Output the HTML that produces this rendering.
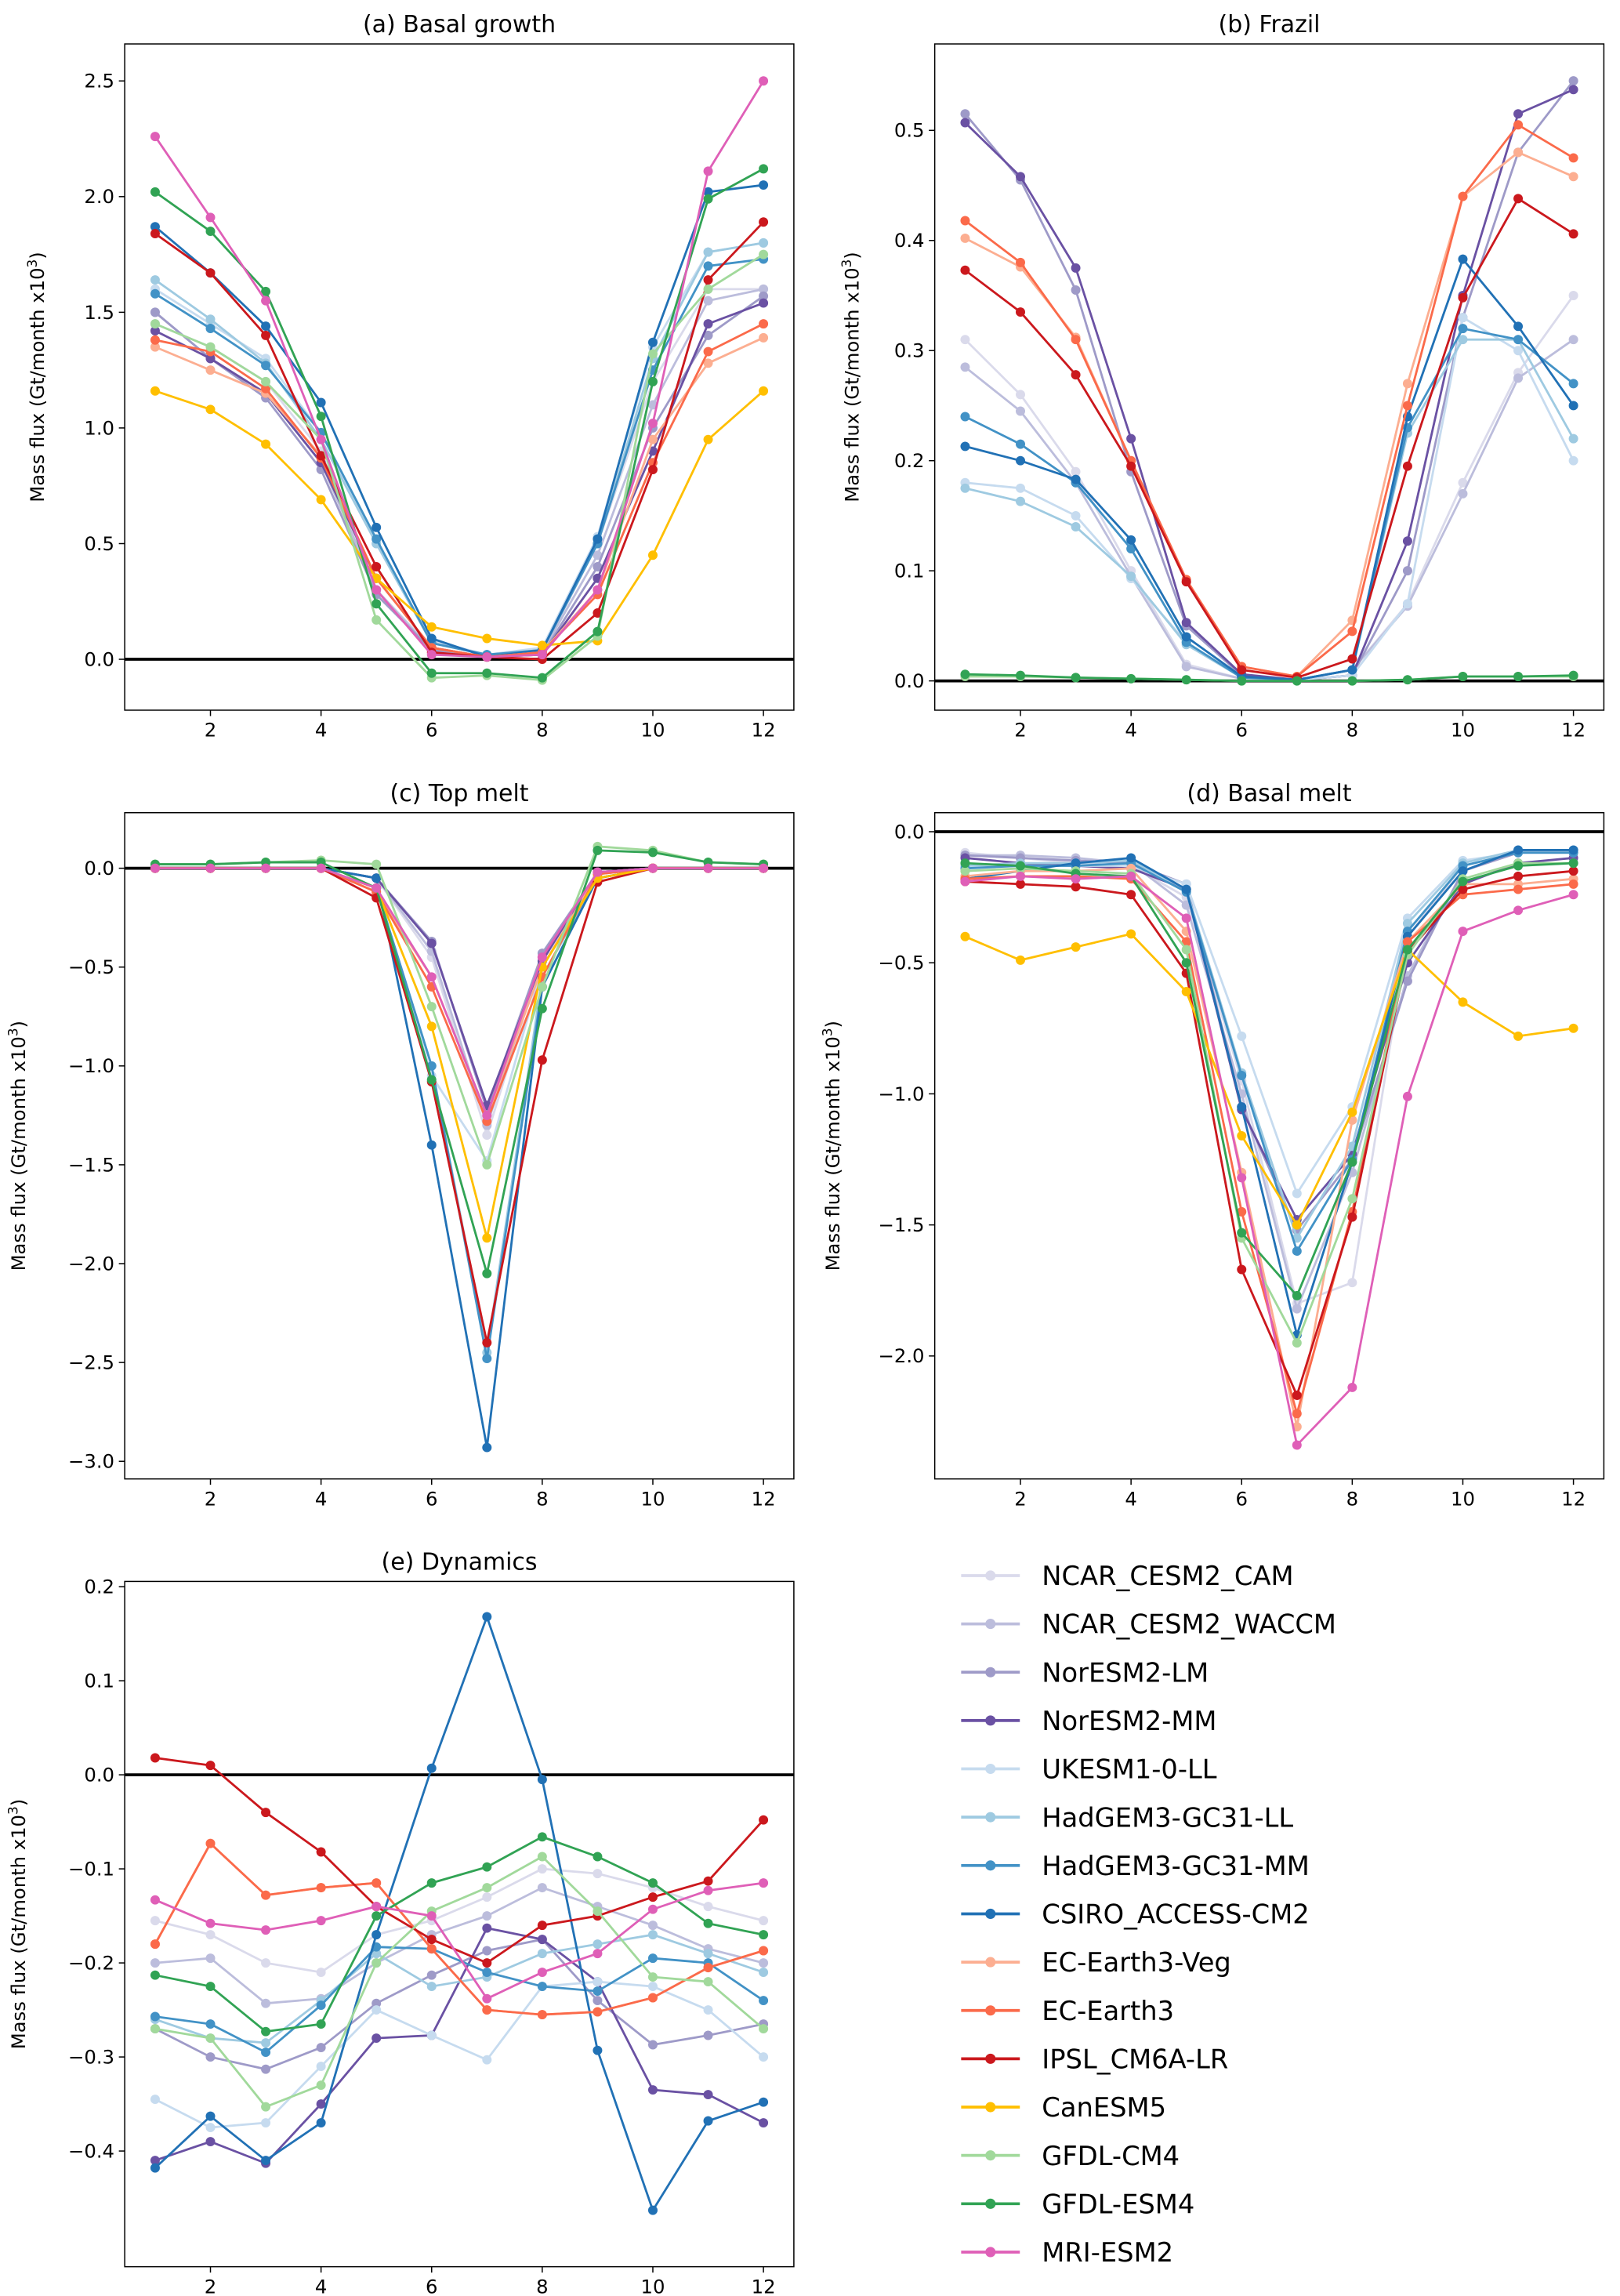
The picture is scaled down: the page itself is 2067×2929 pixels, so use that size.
<!DOCTYPE html>
<html><head><meta charset="utf-8"><style>
html,body{margin:0;padding:0;background:#fff;}
svg{display:block;font-family:"DejaVu Sans","Liberation Sans",sans-serif;}
</style></head><body>
<svg id="fig" width="2067" height="2929" viewBox="0 0 1104 1568" preserveAspectRatio="none" xmlns="http://www.w3.org/2000/svg"></svg>
<script>
const months=[1,2,3,4,5,6,7,8,9,10,11,12];
const models=["NCAR_CESM2_CAM","NCAR_CESM2_WACCM","NorESM2-LM","NorESM2-MM","UKESM1-0-LL","HadGEM3-GC31-LL","HadGEM3-GC31-MM","CSIRO_ACCESS-CM2","EC-Earth3-Veg","EC-Earth3","IPSL_CM6A-LR","CanESM5","GFDL-CM4","GFDL-ESM4","MRI-ESM2"];
const colors=["#dadaeb","#bcbddc","#9e9ac8","#6a51a3","#c6dbef","#9ecae1","#4292c6","#2171b5","#fcae91","#fb6a4a","#cb181d","#ffbf00","#a1d99b","#31a354","#df5fb7"];
const basalGrowth=[
[1.45,1.35,1.2,0.9,0.3,0.05,0.01,0.03,0.5,1.2,1.6,1.6],
[1.5,1.3,1.15,0.85,0.3,0.04,0.01,0.03,0.45,1.1,1.55,1.6],
[1.5,1.3,1.13,0.82,0.28,0.04,0.01,0.02,0.4,1.0,1.4,1.57],
[1.42,1.3,1.15,0.85,0.35,0.05,0.01,0.02,0.35,0.9,1.45,1.54],
[1.6,1.45,1.3,0.98,0.5,0.08,0.02,0.05,0.53,1.35,1.76,1.8],
[1.64,1.47,1.28,0.95,0.5,0.07,0.02,0.04,0.5,1.3,1.76,1.8],
[1.58,1.43,1.27,0.98,0.52,0.07,0.02,0.04,0.5,1.25,1.7,1.73],
[1.87,1.67,1.44,1.11,0.57,0.09,0.01,0.04,0.52,1.37,2.02,2.05],
[1.35,1.25,1.15,0.88,0.35,0.05,0.01,0.03,0.3,0.95,1.28,1.39],
[1.38,1.33,1.17,0.87,0.35,0.05,0.01,0.03,0.28,0.85,1.33,1.45],
[1.84,1.67,1.4,0.88,0.4,0.03,0.01,0.0,0.2,0.82,1.64,1.89],
[1.16,1.08,0.93,0.69,0.35,0.14,0.09,0.06,0.08,0.45,0.95,1.16],
[1.45,1.35,1.2,0.95,0.17,-0.08,-0.07,-0.09,0.1,1.32,1.6,1.75],
[2.02,1.85,1.59,1.05,0.24,-0.06,-0.06,-0.08,0.12,1.2,1.99,2.12],
[2.26,1.91,1.55,0.95,0.3,0.02,0.01,0.02,0.3,1.02,2.11,2.5]];
const frazil=[
[0.31,0.26,0.19,0.1,0.015,0.002,0.001,0.01,0.07,0.18,0.28,0.35],
[0.285,0.245,0.18,0.095,0.013,0.002,0.001,0.01,0.068,0.17,0.275,0.31],
[0.515,0.455,0.355,0.19,0.05,0.005,0.001,0.005,0.1,0.33,0.48,0.545],
[0.507,0.458,0.375,0.22,0.053,0.006,0.001,0.005,0.127,0.35,0.515,0.537],
[0.18,0.175,0.15,0.093,0.035,0.003,0.001,0.005,0.07,0.33,0.30,0.2],
[0.175,0.163,0.14,0.095,0.033,0.003,0.001,0.01,0.225,0.31,0.31,0.22],
[0.24,0.215,0.18,0.12,0.035,0.003,0.001,0.01,0.23,0.32,0.31,0.27],
[0.213,0.2,0.183,0.128,0.04,0.004,0.001,0.01,0.24,0.383,0.322,0.25],
[0.402,0.376,0.312,0.2,0.09,0.013,0.004,0.055,0.27,0.44,0.48,0.458],
[0.418,0.38,0.31,0.2,0.092,0.013,0.004,0.045,0.25,0.44,0.505,0.475],
[0.373,0.335,0.278,0.195,0.09,0.01,0.003,0.02,0.195,0.348,0.438,0.406],
[null,null,null,null,null,null,null,null,null,null,null,null],
[0.004,0.004,0.003,0.002,0.001,0,0,0,0.001,0.004,0.004,0.004],
[0.006,0.005,0.003,0.002,0.001,0,0,0,0.001,0.004,0.004,0.005],
[null,null,null,null,null,null,null,null,null,null,null,null]];
const topMelt=[
[0,0,0,0,-0.05,-0.45,-1.35,-0.45,-0.02,0,0,0],
[0,0,0,0,-0.05,-0.42,-1.3,-0.45,-0.02,0,0,0],
[0,0,0,0,-0.05,-0.37,-1.22,-0.43,-0.02,0,0,0],
[0,0,0,0,-0.05,-0.38,-1.2,-0.47,-0.02,0,0,0],
[0,0,0,0,-0.1,-1.05,-1.48,-0.5,-0.03,0,0,0],
[0,0,0,0,-0.1,-1.0,-2.45,-0.55,-0.05,0,0,0],
[0,0,0,0,-0.1,-1.0,-2.48,-0.6,-0.05,0,0,0],
[0,0,0,0,-0.05,-1.4,-2.93,-0.6,-0.05,0,0,0],
[0,0,0,0,-0.12,-0.55,-1.25,-0.5,-0.03,0,0,0],
[0,0,0,0,-0.12,-0.6,-1.28,-0.55,-0.03,0,0,0],
[0,0,0,0,-0.15,-1.08,-2.4,-0.97,-0.07,0,0,0],
[0,0,0,0,-0.1,-0.8,-1.87,-0.5,-0.05,0,0,0],
[0.02,0.02,0.03,0.04,0.02,-0.7,-1.5,-0.6,0.11,0.09,0.03,0.02],
[0.02,0.02,0.03,0.03,-0.1,-1.07,-2.05,-0.71,0.09,0.08,0.03,0.02],
[0,0,0,0,-0.1,-0.55,-1.25,-0.45,-0.02,0,0,0]];
const basalMelt=[
[-0.08,-0.1,-0.12,-0.13,-0.25,-0.95,-1.8,-1.72,-0.4,-0.13,-0.08,-0.08],
[-0.09,-0.09,-0.1,-0.12,-0.28,-1.0,-1.82,-1.3,-0.55,-0.15,-0.07,-0.07],
[-0.09,-0.1,-0.11,-0.12,-0.2,-1.05,-1.52,-1.25,-0.57,-0.15,-0.08,-0.08],
[-0.1,-0.12,-0.13,-0.14,-0.22,-1.06,-1.48,-1.23,-0.5,-0.2,-0.12,-0.1],
[-0.13,-0.13,-0.13,-0.13,-0.2,-0.78,-1.38,-1.05,-0.33,-0.11,-0.08,-0.08],
[-0.13,-0.12,-0.12,-0.11,-0.22,-0.92,-1.55,-1.2,-0.35,-0.12,-0.07,-0.07],
[-0.14,-0.13,-0.13,-0.12,-0.23,-0.93,-1.6,-1.25,-0.38,-0.13,-0.08,-0.08],
[-0.18,-0.15,-0.12,-0.1,-0.22,-1.05,-1.92,-1.26,-0.4,-0.15,-0.07,-0.07],
[-0.17,-0.15,-0.15,-0.14,-0.38,-1.3,-2.27,-1.1,-0.42,-0.2,-0.2,-0.18],
[-0.18,-0.17,-0.17,-0.18,-0.42,-1.45,-2.22,-1.45,-0.42,-0.24,-0.22,-0.2],
[-0.19,-0.2,-0.21,-0.24,-0.54,-1.67,-2.15,-1.47,-0.46,-0.22,-0.17,-0.15],
[-0.4,-0.49,-0.44,-0.39,-0.61,-1.16,-1.5,-1.07,-0.45,-0.65,-0.78,-0.75],
[-0.15,-0.14,-0.15,-0.16,-0.45,-1.55,-1.95,-1.4,-0.47,-0.18,-0.12,-0.12],
[-0.12,-0.13,-0.16,-0.17,-0.5,-1.53,-1.77,-1.26,-0.45,-0.19,-0.13,-0.12],
[-0.19,-0.17,-0.18,-0.17,-0.33,-1.32,-2.34,-2.12,-1.01,-0.38,-0.3,-0.24]];
const dynamics=[
[-0.155,-0.17,-0.2,-0.21,-0.17,-0.155,-0.13,-0.1,-0.105,-0.12,-0.14,-0.155],
[-0.2,-0.195,-0.243,-0.238,-0.2,-0.17,-0.15,-0.12,-0.14,-0.16,-0.185,-0.2],
[-0.27,-0.3,-0.313,-0.29,-0.243,-0.213,-0.187,-0.175,-0.24,-0.287,-0.277,-0.265],
[-0.41,-0.39,-0.413,-0.35,-0.28,-0.277,-0.163,-0.175,-0.22,-0.335,-0.34,-0.37],
[-0.345,-0.375,-0.37,-0.31,-0.25,-0.277,-0.303,-0.225,-0.22,-0.225,-0.25,-0.3],
[-0.26,-0.28,-0.285,-0.24,-0.19,-0.225,-0.215,-0.19,-0.18,-0.17,-0.19,-0.21],
[-0.257,-0.265,-0.295,-0.245,-0.183,-0.185,-0.21,-0.225,-0.23,-0.195,-0.2,-0.24],
[-0.418,-0.363,-0.41,-0.37,-0.17,0.007,0.168,-0.005,-0.293,-0.463,-0.368,-0.348],
[-0.18,-0.073,-0.128,-0.12,-0.115,-0.185,-0.25,-0.255,-0.252,-0.237,-0.205,-0.187],
[-0.18,-0.073,-0.128,-0.12,-0.115,-0.185,-0.25,-0.255,-0.252,-0.237,-0.205,-0.187],
[0.018,0.01,-0.04,-0.082,-0.14,-0.175,-0.2,-0.16,-0.15,-0.13,-0.113,-0.048],
[null,null,null,null,null,null,null,null,null,null,null,null],
[-0.27,-0.28,-0.353,-0.33,-0.2,-0.145,-0.12,-0.087,-0.145,-0.215,-0.22,-0.27],
[-0.213,-0.225,-0.273,-0.265,-0.15,-0.115,-0.098,-0.066,-0.087,-0.115,-0.158,-0.17],
[-0.133,-0.158,-0.165,-0.155,-0.14,-0.15,-0.238,-0.21,-0.19,-0.143,-0.123,-0.115]];
const xTicks=[2,4,6,8,10,12];
const ticksA=[0,0.5,1.0,1.5,2.0,2.5];
const ticksB=[0,0.1,0.2,0.3,0.4,0.5];
const ticksC=[-3,-2.5,-2,-1.5,-1,-0.5,0];
const ticksD=[-2,-1.5,-1,-0.5,0];
const ticksE=[-0.4,-0.3,-0.2,-0.1,0,0.1,0.2];

const NS="http://www.w3.org/2000/svg";
const fig=document.getElementById('fig');
function mk(tag,attrs,parent){const e=document.createElementNS(NS,tag);for(const k in attrs)e.setAttribute(k,attrs[k]);(parent||fig).appendChild(e);return e;}
function fmt(v,d){const s=Math.abs(v).toFixed(d);return (v<-1e-9?"\u2212":"")+s;}

const panels=[
{id:"basal-growth",title:"(a) Basal growth",data:basalGrowth,ticks:ticksA,dec:1,L:85,R:541,T:30,B:485,ymin:-0.22,ymax:2.66,ylx:30},
{id:"frazil",title:"(b) Frazil",data:frazil,ticks:ticksB,dec:1,L:637,R:1093,T:30,B:485,ymin:-0.0266,ymax:0.5785,ylx:585},
{id:"top-melt",title:"(c) Top melt",data:topMelt,ticks:ticksC,dec:1,L:85,R:541,T:555,B:1010,ymin:-3.089,ymax:0.281,ylx:17},
{id:"basal-melt",title:"(d) Basal melt",data:basalMelt,ticks:ticksD,dec:1,L:637,R:1093,T:555,B:1010,ymin:-2.469,ymax:0.0726,ylx:572},
{id:"dynamics",title:"(e) Dynamics",data:dynamics,ticks:ticksE,dec:1,L:85,R:541,T:1080,B:1548,ymin:-0.523,ymax:0.2056,ylx:17}];

panels.forEach(p=>{
  const g=mk('g',{});
  
  
  const xs=m=>p.L+(m-0.45)/(12.55-0.45)*(p.R-p.L);
  const ys=v=>p.B-(v-p.ymin)/(p.ymax-p.ymin)*(p.B-p.T);
  const t=mk('text',{x:(p.L+p.R)/2,y:p.T-8,'text-anchor':'middle','font-size':16,fill:'#000'},g);
  t.textContent=p.title;
  
  
  const xt=mk('g',{},g);
  
  
  xTicks.forEach(m=>{
    mk('line',{x1:xs(m),x2:xs(m),y1:p.B,y2:p.B+4,stroke:'#000','stroke-width':0.8},xt);
    const tx=mk('text',{x:xs(m),y:p.B+18,'text-anchor':'middle','font-size':13},xt);tx.textContent=m;
  });
  const yt=mk('g',{},g);
  
  
  p.ticks.forEach(v=>{
    mk('line',{x1:p.L-4,x2:p.L,y1:ys(v),y2:ys(v),stroke:'#000','stroke-width':0.8},yt);
    const tx=mk('text',{x:p.L-7,y:ys(v)+4.5,'text-anchor':'end','font-size':13},yt);tx.textContent=fmt(v,p.dec);
  });
  const yl=mk('text',{x:p.ylx,y:(p.T+p.B)/2,'text-anchor':'middle','font-size':13,transform:`rotate(-90 ${p.ylx} ${(p.T+p.B)/2})`},g);
  yl.innerHTML='Mass flux (Gt/month x10<tspan dy="-5" font-size="9">3</tspan><tspan dy="5">)</tspan>';
  
  
  const zl=mk('line',{x1:p.L,x2:p.R,y1:ys(0),y2:ys(0),stroke:'#000','stroke-width':2},g);
  
  
  p.data.forEach((series,i)=>{
    const sg=mk('g',{},g);
    
    
    const valid=[];
    series.forEach((v,j)=>{if(v!==null)valid.push([months[j],v]);});
    if(valid.length===0)return;
    const pts=valid.map(d=>xs(d[0]).toFixed(2)+','+ys(d[1]).toFixed(2)).join(' ');
    mk('polyline',{points:pts,fill:'none',stroke:colors[i],'stroke-width':1.5},sg);
    valid.forEach(d=>{
      const c=mk('circle',{cx:xs(d[0]),cy:ys(d[1]),r:3.2,fill:colors[i]},sg);
      
      
    });
  });
  const fr=mk('rect',{x:p.L,y:p.T,width:p.R-p.L,height:p.B-p.T,fill:'none',stroke:'#000','stroke-width':0.8},g);
  
  
});

const lg=mk('g',{});


models.forEach((m,i)=>{
  const y=1076+i*33;
  const e=mk('g',{},lg);
  
  
  mk('line',{x1:655,x2:695,y1:y,y2:y,stroke:colors[i],'stroke-width':2},e);
  mk('circle',{cx:675,cy:y,r:3.5,fill:colors[i]},e);
  const t=mk('text',{x:710,y:y+6.5,'font-size':18},e);t.textContent=m;
});
</script>
</body></html>
